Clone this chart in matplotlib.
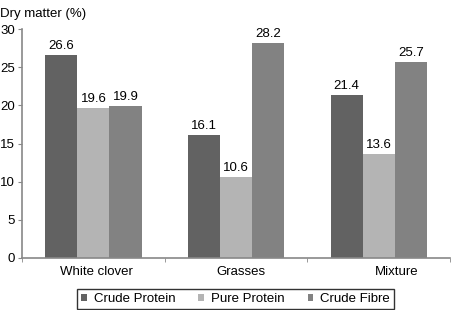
import matplotlib
matplotlib.use("Agg")
import matplotlib.pyplot as plt
import matplotlib.transforms as mtransforms
import numpy as np

categories = ["White clover", "Grasses", "Mixture"]
series_names = ["Crude Protein", "Pure Protein", "Crude Fibre"]
crude_protein = [26.6, 16.1, 21.4]
pure_protein = [19.6, 10.6, 13.6]
crude_fibre = [19.9, 28.2, 25.7]
colors = ["#626262", "#b4b4b4", "#828282"]

FS = 9.5
plt.rcParams['font.family'] = ['Liberation Sans', 'DejaVu Sans']
fig = plt.figure(figsize=(4.51, 3.10), dpi=100)
ax = fig.add_axes([0.049, 0.168, 0.949, 0.738])

x = np.arange(len(categories))
w = 0.225
data = [crude_protein, pure_protein, crude_fibre]
for i, (vals, name, c) in enumerate(zip(data, series_names, colors)):
    bars = ax.bar(x + (i - 1) * w, vals, w, color=c, label=name, edgecolor='none')
    for b, v in zip(bars, vals):
        ax.text(b.get_x() + b.get_width() / 2, v + 0.4, f"{v:.1f}",
                ha='center', va='bottom', fontsize=FS)

ax.set_xlim(-0.5, 2.5)
ax.set_ylim(0, 30)
ax.set_yticks(np.arange(0, 31, 5))
ax.set_xticks(x)
ax.set_xticklabels(categories, fontsize=FS)
ax.set_xticks(np.arange(-0.5, 2.6, 1), minor=True)
ax.tick_params(axis='x', which='major', length=0, pad=6)
ax.tick_params(axis='x', which='minor', length=3, color='#888888')
ax.tick_params(axis='y', length=3, color='#888888', labelsize=FS, pad=2)
labs = ax.get_xticklabels()
offsets = [3, 5, 18]
for lab, off in zip(labs, offsets):
    lab.set_transform(lab.get_transform() + mtransforms.ScaledTranslation(off / 100, 0, fig.dpi_scale_trans))

for s in ['top', 'right']:
    ax.spines[s].set_visible(False)
for s in ['left', 'bottom']:
    ax.spines[s].set_color('#888888')
    ax.spines[s].set_linewidth(1.2)

fig.text(0.0, 0.975, "Dry matter (%)", fontsize=FS, ha='left', va='top')

leg = fig.legend(loc='lower center', bbox_to_anchor=(0.522, 0.004), ncol=3, fontsize=FS,
                 frameon=True, fancybox=False, edgecolor='black', handlelength=0.45,
                 handleheight=0.45, handletextpad=0.5, columnspacing=1.75,
                 borderpad=0.3, borderaxespad=0)
leg.get_frame().set_linewidth(1.0)

fig.savefig("out.png", dpi=100)
